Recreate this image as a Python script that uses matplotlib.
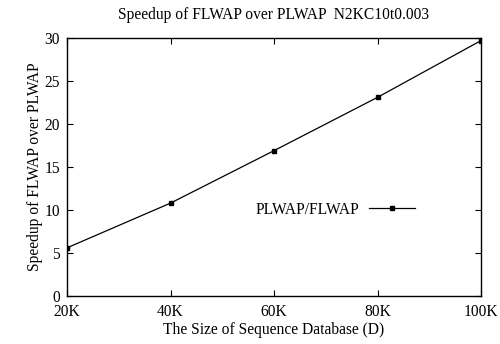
import matplotlib
matplotlib.use('Agg')
import matplotlib.pyplot as plt

plt.rcParams['font.family'] = 'Liberation Serif'

sizes_k = [20, 40, 60, 80, 100]
speedup = [5.6, 10.8, 16.9, 23.1, 29.7]
xtick_labels = ['20K', '40K', '60K', '80K', '100K']
yticks = [0, 5, 10, 15, 20, 25, 30]

fig = plt.figure(figsize=(5.0, 3.44), dpi=100)
ax = fig.add_axes([67/500, 48/344, 414/500, 258/344])

ax.plot(sizes_k, speedup, '-', c='black', lw=0.9, marker='s', markersize=3.5,
        label='PLWAP/FLWAP')

ax.set_xlim(20, 100)
ax.set_ylim(0, 30)
ax.set_xticks(sizes_k)
ax.set_xticklabels(xtick_labels)
ax.set_yticks(yticks)
ax.tick_params(direction='in', top=True, right=True, labelsize=11.2, length=4)
ax.tick_params(axis='x', pad=6)
ax.tick_params(axis='y', pad=5)
for s in ax.spines.values():
    s.set_linewidth(1.0)

ax.set_title('Speedup of FLWAP over PLWAP  N2KC10t0.003', fontsize=11.2, pad=14)
ax.set_xlabel('The Size of Sequence Database (D)', fontsize=11.2, labelpad=1)
ax.set_ylabel('Speedup of FLWAP over PLWAP', fontsize=11.2, labelpad=1)

ax.legend(loc='center right', bbox_to_anchor=(0.875, 0.335), frameon=False,
          fontsize=11.2, markerfirst=False, handlelength=3.0, handletextpad=0.6)

fig.savefig('out.png', dpi=100)
